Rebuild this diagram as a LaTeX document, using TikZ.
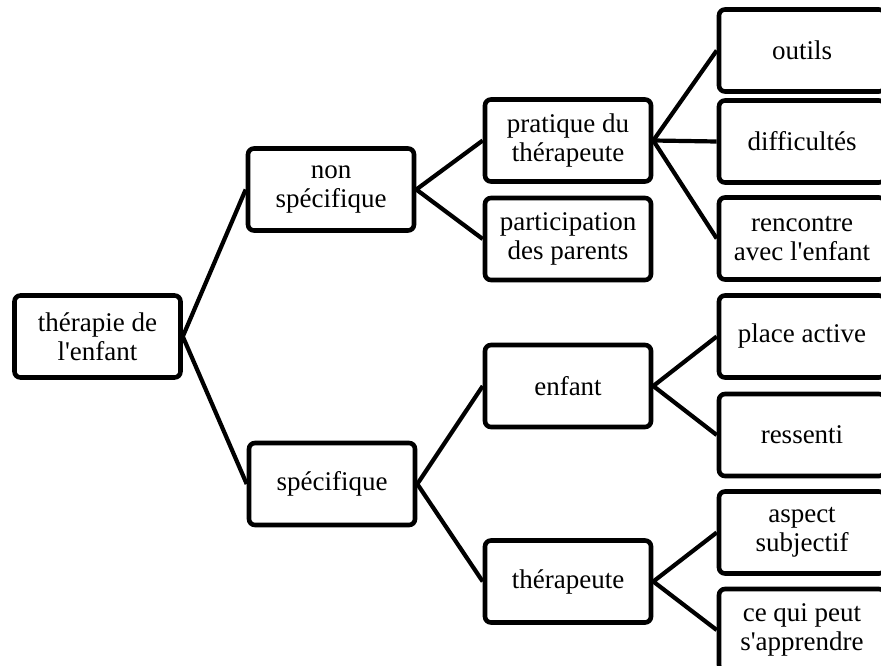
\documentclass[tikz,border=0pt]{standalone}
\usepackage{fontspec}
\setmainfont{Liberation Serif}[Ligatures=TeXOff]
\begin{document}
\begin{tikzpicture}[x=1pt,y=-1pt,
  box/.style={draw=black, line width=4.6pt, rounded corners=6pt, fill=white,
    minimum width=166pt, minimum height=82pt, align=center, inner sep=0pt,
    font=\fontsize{27}{29}\selectfont},
  link/.style={line width=4.2pt}]
  \useasboundingbox (0,0) rectangle (881,666);
  \clip (0,0) rectangle (881,666);
  % tree levels, left to right
  \node[box] (root) at (97.5,336.5) {thérapie de\\l'enfant};
  \node[box] (ns) at (331,189.5) {non\\spécifique};
  \node[box] (sp) at (332,484) {spécifique};
  \node[box] (pt) at (568,140.5) {pratique du\\thérapeute};
  \node[box] (pp) at (568,239) {participation\\des parents};
  \node[box] (en) at (568,386) {enfant};
  \node[box] (th) at (568,581.5) {thérapeute};
  \node[box] (ou) at (802,50.5) {outils};
  \node[box] (di) at (802,141.5) {difficultés};
  \node[box] (re) at (802,238.5) {rencontre\\avec l'enfant};
  \node[box] (pa) at (802,336.5) {place active};
  \node[box] (rs) at (802,435) {ressenti};
  \node[box] (as) at (802,532.5) {aspect\\subjectif};
  \node[box] (ce) at (802,630) {ce qui peut\\s'apprendre};
  % connectors
  \draw[link] (ns.west) -- (root.east) -- (sp.west);
  \draw[link] (pt.west) -- (ns.east) -- (pp.west);
  \draw[link] (en.west) -- (sp.east) -- (th.west);
  \draw[link] (ou.west) -- (pt.east) -- (re.west);
  \draw[link] (pt.east) -- (di.west);
  \draw[link] (pa.west) -- (en.east) -- (rs.west);
  \draw[link] (as.west) -- (th.east) -- (ce.west);
\end{tikzpicture}
\end{document}
